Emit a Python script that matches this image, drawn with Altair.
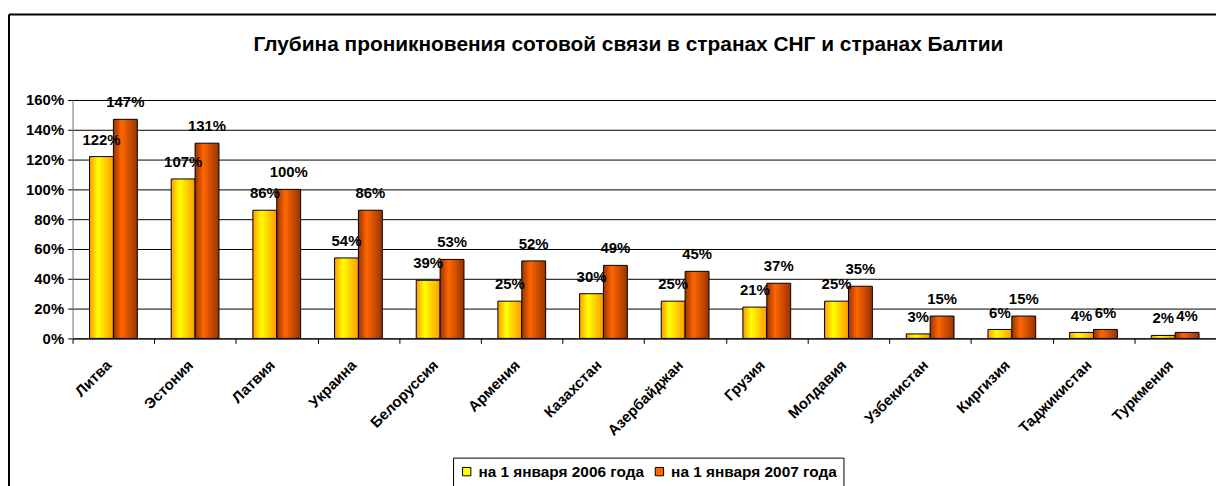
import altair as alt
import pandas as pd

countries = ["Литва", "Эстония", "Латвия", "Украина", "Белоруссия", "Армения",
             "Казахстан", "Азербайджан", "Грузия", "Молдавия", "Узбекистан",
             "Киргизия", "Таджикистан", "Туркмения"]
s2006 = [122, 107, 86, 54, 39, 25, 30, 25, 21, 25, 3, 6, 4, 2]
s2007 = [147, 131, 100, 86, 53, 52, 49, 45, 37, 35, 15, 15, 6, 4]
series = ["на 1 января 2006 года", "на 1 января 2007 года"]
y_ticks = [0, 0.2, 0.4, 0.6, 0.8, 1.0, 1.2, 1.4, 1.6]
title_text = "Глубина проникновения сотовой связи в странах СНГ и странах Балтии"

rows = []
for c, a, b in zip(countries, s2006, s2007):
    rows.append({"country": c, "series": series[0], "value": a / 100})
    rows.append({"country": c, "series": series[1], "value": b / 100})
df = pd.DataFrame(rows)

FONT = "Liberation Sans"

x = alt.X("country:N", sort=countries,
          scale=alt.Scale(paddingInner=0, paddingOuter=0),
          axis=alt.Axis(title=None, labelAngle=-45, labelAlign="right",
                        labelBaseline="middle", labelFontWeight="bold",
                        labelFontSize=15, labelColor="black", labelFont=FONT,
                        tickBand="extent", tickSize=5, tickColor="black",
                        domainColor="black", labelPadding=19, labelOffset=-5,
                        grid=False))
xo = alt.XOffset("series:N", sort=series,
                 scale=alt.Scale(domain=series, paddingOuter=0.71, paddingInner=0))
y = alt.Y("value:Q", scale=alt.Scale(domain=[0, 1.6], nice=False),
          axis=alt.Axis(title=None, format=".0%", values=y_ticks,
                        gridColor="black", gridWidth=1, gridOpacity=1,
                        labelFontWeight="bold", labelFontSize=15,
                        labelColor="black", labelFont=FONT,
                        tickSize=5, tickColor="black", domainColor="#808080",
                        labelPadding=4))

g2006 = {"gradient": "linear", "x1": 0, "y1": 0, "x2": 1, "y2": 0,
         "stops": [{"offset": 0, "color": "#FF9900"},
                   {"offset": 0.35, "color": "#FFFF00"},
                   {"offset": 1, "color": "#FF9900"}]}
g2007 = {"gradient": "linear", "x1": 0, "y1": 0, "x2": 1, "y2": 0,
         "stops": [{"offset": 0, "color": "#993300"},
                   {"offset": 0.35, "color": "#FF6600"},
                   {"offset": 1, "color": "#993300"}]}

base = alt.Chart(df)

bars06 = base.transform_filter(alt.datum.series == series[0]).mark_bar(
    fill=g2006, stroke="black", strokeWidth=1).encode(x=x, xOffset=xo, y=y)
bars07 = base.transform_filter(alt.datum.series == series[1]).mark_bar(
    fill=g2007, stroke="black", strokeWidth=1).encode(x=x, xOffset=xo, y=y)

legend_layer = base.mark_square(opacity=0).encode(
    x=x, xOffset=xo, y=y,
    color=alt.Color("series:N", sort=series,
                    scale=alt.Scale(domain=series, range=["#FFFF00", "#FF6600"]),
                    legend=alt.Legend(title=None, orient="none", legendX=383,
                                      legendY=360, direction="horizontal",
                                      strokeColor="black", fillColor="white",
                                      padding=6, labelFontSize=15.5,
                                      labelFontWeight="bold", labelFont=FONT,
                                      labelColor="black", labelLimit=0,
                                      symbolType="square", symbolSize=70,
                                      symbolStrokeColor="black",
                                      symbolStrokeWidth=1, symbolOpacity=1,
                                      columnPadding=7)))

labels = base.mark_text(dy=-12, baseline="alphabetic", fontWeight="bold",
                        fontSize=15, font=FONT, color="black").encode(
    x=x, xOffset=xo, y=y, text=alt.Text("value:Q", format=".0%"))

frame_df = pd.DataFrame({"k": [0]})
frame_left = alt.Chart(frame_df).mark_rule(color="black", strokeWidth=2).encode(
    x=alt.value(-64), y=alt.value(-86), y2=alt.value(400))
frame_top = alt.Chart(frame_df).mark_rule(color="black", strokeWidth=2).encode(
    x=alt.value(-64), x2=alt.value(1151), y=alt.value(-86))

chart = alt.layer(bars06, bars07, legend_layer, labels, frame_left, frame_top).properties(
    width=1151, height=240,
    padding={"left": 65, "top": 91, "right": 0, "bottom": 147},
    autosize=alt.AutoSizeParams(type="none"),
    title=alt.TitleParams(title_text, font=FONT, fontSize=21, fontWeight="bold",
                          color="black", anchor="middle", offset=-59, dx=-16,
                          baseline="alphabetic"),
).configure_view(fill="#C0C0C0", stroke="#808080").configure(font=FONT)

chart.save("out.html", embed_options={"renderer": "svg", "actions": False})
